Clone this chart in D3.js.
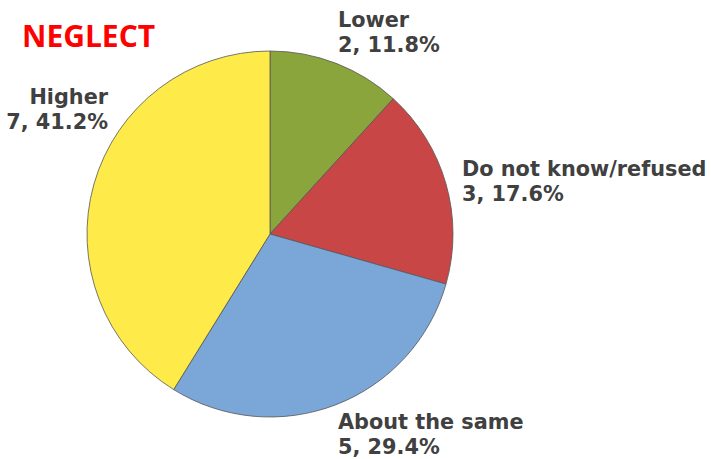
<!DOCTYPE html>
<html>
<head>
<meta charset="utf-8">
<script src="https://cdn.jsdelivr.net/npm/d3@7"></script>
<style>
  body { margin: 0; background: #fff; }
  text { font-weight: bold; }
</style>
</head>
<body>
<svg id="chart"></svg>
<script>
// chart data
const categories = ["Lower", "Do not know/refused", "About the same", "Higher"];
const counts = [2, 3, 5, 7];
const percents = ["11.8%", "17.6%", "29.4%", "41.2%"];
const colors = ["#8aa53b", "#c84646", "#7ba6d8", "#feea48"];

const width = 711, height = 459;
const cx = 270, cy = 234, radius = 183;

const svg = d3.select("#chart")
    .attr("width", width)
    .attr("height", height);

const pie = d3.pie().sort(null).value(d => d.count);
const arc = d3.arc().innerRadius(0).outerRadius(radius);

const data = categories.map((c, i) => ({ name: c, count: counts[i], pct: percents[i], color: colors[i] }));

const g = svg.append("g").attr("transform", `translate(${cx},${cy})`);
g.selectAll("path")
  .data(pie(data))
  .enter()
  .append("path")
  .attr("d", arc)
  .attr("fill", d => d.data.color)
  .attr("stroke", "#555")
  .attr("stroke-width", 0.8);

// title
svg.append("text")
   .attr("x", 22).attr("y", 47)
   .attr("fill", "#ff0000")
   .style("font-family", "'Open Sans', sans-serif")
   .style("font-size", "30px")
   .text("NEGLECT");

// label positions (placed by hand like the original)
const labelPos = [
  { x: 338, y: 27, anchor: "start" },
  { x: 462, y: 176, anchor: "start" },
  { x: 338, y: 429, anchor: "start" },
  { x: 108, y: 104, anchor: "end" }
];

data.forEach((d, i) => {
  const p = labelPos[i];
  const t = svg.append("text")
    .attr("x", p.x).attr("y", p.y)
    .attr("text-anchor", p.anchor)
    .attr("fill", "#404040")
    .style("font-family", "'DejaVu Sans', sans-serif")
    .style("font-size", "20.8px");
  t.append("tspan").attr("x", p.x).text(d.name);
  t.append("tspan").attr("x", p.x).attr("dy", 25).text(`${d.count}, ${d.pct}`);
});
</script>
</body>
</html>
